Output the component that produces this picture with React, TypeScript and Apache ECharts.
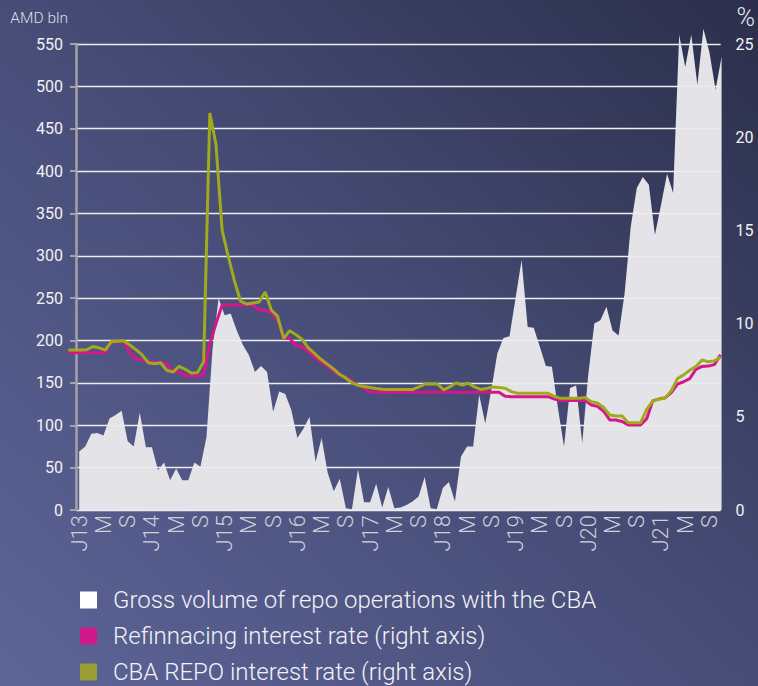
import React, { useEffect, useRef } from "react";
import * as echarts from "echarts";

// Monthly categories Jan 2013 .. Nov 2021
const startYear = 2013;
const monthCount = 107;
const months: string[] = [];
for (let k = 0; k < monthCount; k++) {
  const y = startYear + Math.floor(k / 12);
  const m = (k % 12) + 1;
  months.push(`${y}-${m < 10 ? "0" + m : m}`);
}
// tick letters shown on the axis (Jan, May, Sep)
const tickLetters: Record<string, string> = { "01": "J", "05": "M", "09": "S" };

// Gross volume of repo operations with the CBA, AMD bln
const repoVolume = [
  69, 75, 90, 91, 88, 108, 112, 117, 81, 75,
  115, 74, 74, 47, 56, 35, 49, 35, 35, 56,
  51, 86, 190, 250, 230, 232, 212, 195, 183, 163,
  170, 163, 116, 140, 137, 118, 85, 96, 110, 57,
  85, 44, 22, 37, 2, 1, 48, 9, 9, 31,
  3, 27, 2, 3, 6, 10, 16, 39, 2, 1,
  26, 33, 10, 63, 75, 75, 136, 102, 142, 185,
  203, 205, 250, 295, 216, 215, 193, 170, 169, 120,
  75, 144, 147, 79, 160, 220, 224, 240, 212, 206,
  256, 334, 380, 393, 384, 325, 360, 397, 374, 561,
  523, 561, 502, 568, 540, 496, 535,
];

// Refinancing interest rate, %
const refiRate = [
  8.44, 8.44, 8.44, 8.44, 8.44, 8.44, 8.44, 9.03, 9.03, 9.03,
  8.45, 8.08, 8.08, 7.96, 7.96, 7.87, 7.87, 7.42, 7.42, 7.19,
  7.19, 7.19, 7.24, 8.9, 10.0, 11.0, 11.0, 11.0, 11.0, 11.0,
  11.0, 10.73, 10.73, 10.6, 10.2, 9.21, 9.21, 8.8, 8.76, 8.5,
  8.2, 7.95, 7.75, 7.5, 7.24, 7.15, 6.95, 6.7, 6.55, 6.35,
  6.32, 6.32, 6.32, 6.32, 6.32, 6.32, 6.32, 6.32, 6.32, 6.32,
  6.32, 6.32, 6.32, 6.32, 6.32, 6.32, 6.32, 6.32, 6.32, 6.32,
  6.32, 6.1, 6.08, 6.08, 6.08, 6.08, 6.08, 6.08, 6.08, 5.95,
  5.87, 5.87, 5.87, 5.87, 5.87, 5.63, 5.56, 5.3, 4.83, 4.83,
  4.75, 4.56, 4.56, 4.56, 4.9, 5.87, 5.95, 6.02, 6.3, 6.75,
  6.88, 7.05, 7.55, 7.7, 7.72, 7.8, 8.32,
];

// CBA REPO interest rate, %
const repoRate = [
  8.58, 8.58, 8.58, 8.6, 8.77, 8.7, 8.58, 9.03, 9.05, 9.08,
  8.85, 8.6, 8.32, 7.9, 7.85, 7.9, 7.5, 7.4, 7.71, 7.55,
  7.35, 7.37, 7.96, 21.3, 19.6, 15.0, 13.6, 12.3, 11.2, 11.05,
  11.1, 11.16, 11.7, 10.73, 10.4, 9.21, 9.62, 9.4, 9.15, 8.7,
  8.4, 8.1, 7.85, 7.6, 7.3, 7.1, 6.85, 6.7, 6.62, 6.57,
  6.52, 6.48, 6.47, 6.47, 6.47, 6.47, 6.47, 6.6, 6.76, 6.76,
  6.76, 6.45, 6.6, 6.82, 6.7, 6.8, 6.6, 6.47, 6.52, 6.6,
  6.57, 6.53, 6.35, 6.26, 6.26, 6.26, 6.26, 6.26, 6.26, 6.1,
  5.99, 6.0, 6.0, 6.0, 6.04, 5.81, 5.74, 5.5, 5.1, 5.04,
  5.04, 4.68, 4.68, 4.68, 5.4, 5.85, 5.95, 6.0, 6.4, 7.05,
  7.25, 7.5, 7.7, 8.05, 7.95, 8.0, 8.2,
];

const seriesNames = [
  "Gross volume of repo operations with the CBA",
  "Refinnacing interest rate (right axis)",
  "CBA REPO interest rate (right axis)",
];

const FONT = "Roboto, 'Noto Sans', sans-serif";

export default function App() {
  const ref = useRef<HTMLDivElement>(null);

  useEffect(() => {
    if (!ref.current) return;
    const chart = echarts.init(ref.current, undefined, { renderer: "svg" });
    const gTop = 44;
    const gBottom = 176;
    chart.setOption({
      animation: false,
      backgroundColor: "transparent",
      grid: [
        { left: 76, right: 37.3, top: gTop, bottom: gBottom },
        { left: 79.2, right: 36.4, top: gTop, bottom: gBottom },
        { left: 68.3, right: 37.3, top: gTop, bottom: gBottom },
      ],
      xAxis: [
        { type: "value", gridIndex: 0, show: false, min: 0, max: 1 },
        {
          type: "category",
          gridIndex: 1,
          data: months,
          boundaryGap: false,
          axisLine: { show: false },
          axisTick: { show: false },
          axisLabel: {
            interval: 0,
            rotate: 90,
            margin: 5,
            color: "#cfd0da",
            fontSize: 22,
            fontWeight: 300,
            fontFamily: FONT,
            formatter: (v: string) => {
              const parts = v.split("-");
              const letter = tickLetters[parts[1]];
              if (!letter) return "";
              return letter === "J" ? "J" + parts[0].slice(2) : letter;
            },
          },
          splitLine: { show: false },
        },
        {
          type: "category",
          gridIndex: 2,
          data: months,
          boundaryGap: false,
          show: false,
        },
      ],
      yAxis: [
        {
          type: "value",
          gridIndex: 0,
          min: 0,
          max: 550,
          interval: 50,
          position: "left",
          z: 3,
          name: "AMD bln",
          nameLocation: "end",
          nameGap: 26,
          nameTextStyle: {
            color: "#dcdde6",
            fontSize: 15.5,
            fontWeight: 300,
            fontFamily: FONT,
            align: "right",
            verticalAlign: "middle",
            padding: [0, 8, 0, 0],
          },
          axisLine: { show: true, lineStyle: { color: "#a3a3a8", width: 2.5 } },
          axisTick: { show: true, length: 6, lineStyle: { color: "#a3a3a8", width: 2 } },
          axisLabel: { color: "#f2f2f5", fontSize: 16, fontFamily: FONT, margin: 13 },
          splitLine: { show: true, lineStyle: { color: "#ededf0", width: 1.4 } },
        },
        { type: "value", gridIndex: 1, min: 0, max: 550, show: false },
        {
          type: "value",
          gridIndex: 2,
          min: 0,
          max: 25,
          interval: 5,
          position: "right",
          name: "%",
          nameLocation: "end",
          nameGap: 27,
          nameTextStyle: {
            color: "#e6e6ec",
            fontSize: 25,
            fontWeight: 300,
            fontFamily: FONT,
            align: "left",
            verticalAlign: "middle",
            padding: [0, 0, 0, 16],
          },
          axisLine: { show: false },
          axisTick: { show: false },
          axisLabel: { color: "#f2f2f5", fontSize: 16, fontFamily: FONT, margin: 15 },
          splitLine: { show: false },
        },
      ],
      legend: {
        orient: "vertical",
        left: 80,
        top: 588,
        height: 98,
        padding: 0,
        itemWidth: 17,
        itemHeight: 17,
        itemGap: 12,
        textStyle: {
          color: "#f2f2f6",
          fontSize: 24,
          lineHeight: 24,
          fontWeight: 300,
          fontFamily: FONT,
          padding: [0, 0, 0, 11],
        },
        data: [
          { name: seriesNames[0], icon: "rect", itemStyle: { color: "#ffffff" } },
          { name: seriesNames[1], icon: "rect", itemStyle: { color: "#cf1a8c" } },
          { name: seriesNames[2], icon: "rect", itemStyle: { color: "#9a9c34" } },
        ],
      },
      series: [
        {
          name: seriesNames[0],
          type: "line",
          xAxisIndex: 1,
          yAxisIndex: 1,
          data: repoVolume,
          showSymbol: false,
          symbol: "none",
          clip: false,
          lineStyle: { width: 0, color: "#e3e3e8" },
          itemStyle: { color: "#e3e3e8" },
          areaStyle: { color: "#e3e3e8", opacity: 1 },
          z: 2,
        },
        {
          name: seriesNames[1],
          type: "line",
          xAxisIndex: 2,
          yAxisIndex: 2,
          data: refiRate,
          showSymbol: false,
          symbol: "none",
          clip: false,
          lineStyle: { width: 3, color: "#d6168b" },
          itemStyle: { color: "#d6168b" },
          z: 4,
        },
        {
          name: seriesNames[2],
          type: "line",
          xAxisIndex: 2,
          yAxisIndex: 2,
          data: repoRate,
          showSymbol: false,
          symbol: "none",
          clip: false,
          lineStyle: { width: 3, color: "#a0ab1c" },
          itemStyle: { color: "#a0ab1c" },
          z: 5,
        },
      ],
    });
    return () => chart.dispose();
  }, []);

  return (
    <div
      style={{
        position: "fixed",
        left: 0,
        top: 0,
        width: 758,
        height: 686,
        background: "linear-gradient(to top right, #5d6598 0%, #474d77 50%, #2b2f4b 100%)",
      }}
    >
      <div ref={ref} style={{ width: 758, height: 686 }} />
    </div>
  );
}
